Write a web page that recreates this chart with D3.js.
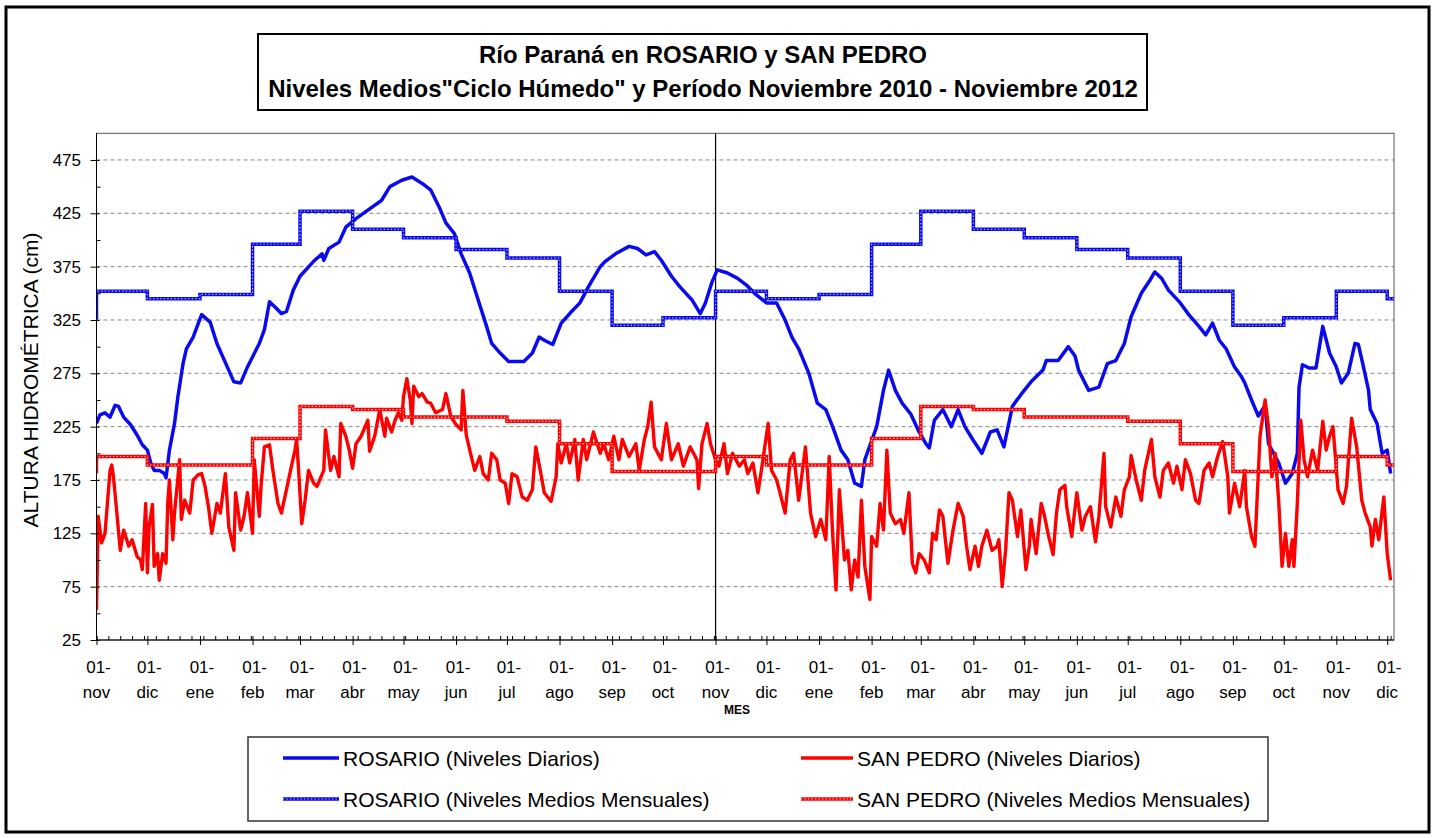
<!DOCTYPE html>
<html>
<head>
<meta charset="utf-8">
<script src="https://cdn.jsdelivr.net/npm/d3@7"></script>
<style>
  body { margin: 0; background: #fff; }
  text { font-family: Arial, "Liberation Sans", sans-serif; fill: #000; }
</style>
</head>
<body>
<script>
// month names in calendar order (getMonth index)
const meses = ["ene", "feb", "mar", "abr", "may", "jun", "jul", "ago", "sep", "oct", "nov", "dic"];

// "Ciclo Húmedo" monthly means, calendar order ene..dic
const rosarioMedio = [349, 396, 427, 410, 402, 391, 383, 352, 320, 327, 352, 345];
const sanPedroMedio = [189, 214, 244, 241, 234, 234, 230, 209, 183, 183, 197, 189];

const yTicks = [25, 75, 125, 175, 225, 275, 325, 375, 425, 475];
const yMinor = [50, 100, 150, 200, 250, 300, 350, 400, 450];

// daily levels: [days since 01-nov-2010, cm]
const rosarioDiario = [
  [0,228],[2,236],[5,238],[8,234],[11,245],[13,244],[16,234],[20,227],[24,217],[27,208],
  [30,203],[32,191],[34,184],[37,184],[40,181],[41,177],[43,203],[46,228],[48,253],[51,284],
  [53,298],[57,309],[61,326],[62,330],[67,323],[71,303],[76,285],[81,267],[85,266],[89,281],
  [96,303],[99,316],[102,342],[106,336],[109,331],[112,333],[116,353],[120,366],[128,380],[133,387],
  [134,381],[137,392],[143,398],[147,412],[153,420],[160,428],[168,437],[173,450],[180,456],[186,459],
  [192,453],[197,447],[202,431],[206,416],[211,406],[215,387],[220,369],[225,344],[230,319],[233,303],
  [238,294],[243,286],[252,286],[257,294],[261,309],[264,306],[269,302],[274,322],[279,331],[285,341],
  [290,356],[297,375],[300,380],[306,387],[314,394],[319,392],[324,386],[329,389],[333,381],[339,366],
  [344,356],[351,344],[356,331],[359,341],[363,361],[366,372],[372,369],[378,364],[383,358],[388,350],
  [395,341],[401,341],[406,325],[410,309],[414,298],[420,275],[425,247],[430,241],[434,225],[439,203],
  [443,194],[447,172],[451,169],[453,194],[460,225],[464,259],[467,278],[471,259],[475,247],[480,237],
  [485,220],[489,209],[491,205],[494,231],[499,241],[504,225],[508,241],[512,225],[517,212],[522,200],
  [527,220],[531,222],[535,206],[540,244],[545,255],[551,267],[558,278],[560,287],[567,287],[573,300],
  [577,291],[579,278],[585,259],[591,262],[596,284],[601,287],[606,303],[610,328],[616,350],[621,362],
  [624,370],[628,364],[632,353],[639,341],[644,330],[650,319],[654,311],[658,322],[662,306],[666,298],
  [671,281],[675,272],[677,266],[681,250],[685,235],[689,245],[691,209],[697,191],[701,172],[705,181],
  [708,200],[709,262],[711,283],[715,280],[719,280],[723,319],[727,294],[731,281],[734,266],[738,275],
  [742,303],[744,302],[747,281],[750,259],[751,241],[755,228],[758,200],[761,203],[763,181]
];

const sanPedroDiario = [
  [0,53],[1,141],[3,116],[5,125],[8,184],[9,189],[10,178],[12,144],[14,109],[16,128],
  [19,113],[21,119],[24,103],[26,100],[27,91],[29,153],[30,88],[31,131],[33,152],[34,94],
  [36,106],[37,81],[39,106],[41,97],[42,153],[43,175],[45,119],[46,144],[49,194],[50,138],
  [52,156],[55,144],[57,175],[60,180],[62,181],[64,169],[66,150],[68,125],[71,153],[73,144],
  [76,181],[78,131],[81,109],[82,163],[85,128],[87,141],[89,163],[92,125],[93,194],[96,141],
  [97,169],[99,206],[102,208],[104,184],[107,153],[109,144],[112,166],[114,181],[117,203],[118,213],
  [119,188],[121,134],[123,156],[125,184],[128,172],[130,169],[134,184],[135,222],[138,184],[140,197],
  [143,178],[144,228],[147,216],[149,203],[151,186],[153,209],[156,216],[160,231],[161,202],[164,216],
  [167,241],[170,216],[171,233],[174,220],[176,231],[178,238],[180,231],[181,253],[183,270],[185,250],
  [186,228],[187,263],[190,253],[192,256],[195,248],[197,247],[200,238],[204,241],[206,256],[209,234],
  [212,227],[215,222],[216,259],[218,217],[221,197],[223,184],[226,197],[228,181],[231,175],[233,200],
  [236,194],[238,175],[241,172],[243,153],[245,181],[248,178],[251,159],[254,156],[257,166],[259,206],
  [262,181],[264,163],[268,155],[271,178],[272,209],[274,191],[277,209],[279,191],[282,213],[284,175],
  [287,213],[289,194],[293,220],[297,200],[299,209],[302,194],[305,216],[308,194],[310,213],[314,197],
  [318,209],[320,184],[323,213],[325,225],[327,248],[329,206],[333,194],[336,228],[339,194],[343,209],
  [346,188],[350,206],[354,194],[355,167],[357,209],[360,228],[362,209],[365,194],[367,188],[370,209],
  [372,181],[375,200],[379,188],[382,194],[384,181],[387,191],[390,163],[392,184],[396,228],[398,184],
  [401,175],[403,163],[406,144],[409,194],[411,200],[414,156],[418,206],[421,144],[424,122],[427,138],
  [430,119],[432,197],[434,125],[436,72],[438,166],[441,100],[443,109],[445,72],[447,100],[449,84],
  [451,156],[453,94],[456,63],[457,122],[460,113],[462,153],[464,128],[466,203],[468,144],[471,134],
  [474,138],[476,125],[479,163],[481,97],[483,88],[485,106],[488,100],[491,88],[493,125],[495,119],
  [497,147],[499,141],[502,97],[505,128],[508,153],[511,141],[513,113],[515,91],[518,113],[520,94],
  [522,113],[525,128],[528,109],[531,113],[532,119],[534,75],[536,109],[538,163],[540,156],[543,122],
  [545,147],[548,91],[550,113],[551,138],[554,106],[557,153],[559,141],[561,125],[564,105],[566,144],
  [568,166],[571,170],[572,150],[575,122],[578,163],[581,128],[583,141],[586,150],[589,117],[591,141],
  [594,200],[595,150],[598,131],[601,159],[604,141],[606,166],[609,178],[610,198],[613,175],[616,156],
  [618,184],[622,213],[624,178],[627,159],[629,184],[632,191],[635,172],[637,188],[640,166],[642,194],
  [645,181],[648,156],[650,153],[653,184],[656,191],[658,178],[661,197],[664,211],[667,178],[668,144],
  [671,172],[674,150],[677,184],[678,150],[681,122],[683,113],[686,216],[689,250],[691,225],[693,178],
  [695,200],[697,156],[699,94],[701,125],[703,94],[705,119],[706,94],[708,153],[710,231],[712,194],
  [714,178],[717,203],[720,184],[723,230],[725,203],[727,216],[729,225],[732,166],[735,153],[737,169],
  [740,233],[743,206],[746,156],[748,144],[751,131],[752,113],[754,138],[756,119],[759,159],[761,106],
  [763,81]
];

const W = 1437, H = 838;
const plot = { left: 96.5, right: 1394, top: 133.3, bottom: 640 };
const inicio = new Date(2010, 10, 1);
const fin = new Date(2012, 11, 5);
const corte = new Date(2011, 10, 1);

const AZUL = "#0a0aee", ROJO = "#ff0000";

const svg = d3.select("body").append("svg")
  .attr("width", W)
  .attr("height", H);

svg.append("rect").attr("width", W).attr("height", H).attr("fill", "#fff");

// outer frame
svg.append("rect")
  .attr("x", 6).attr("y", 7).attr("width", 1423).attr("height", 825)
  .attr("fill", "none").attr("stroke", "#000").attr("stroke-width", 3);

// title box
svg.append("rect")
  .attr("x", 258).attr("y", 34).attr("width", 889).attr("height", 76)
  .attr("fill", "#fff").attr("stroke", "#000").attr("stroke-width", 2);

const title = svg.append("text")
  .attr("text-anchor", "middle")
  .style("font-size", "24px")
  .style("font-weight", "bold");
title.append("tspan").attr("x", 703).attr("y", 63).text("Río Paraná en ROSARIO y SAN PEDRO");
title.append("tspan").attr("x", 703).attr("y", 97)
  .text("Niveles Medios\"Ciclo Húmedo\" y Período Noviembre 2010 - Noviembre 2012");

const x = d3.scaleTime().domain([inicio, fin]).range([plot.left, plot.right]);
const y = d3.scaleLinear().domain([25, 500]).range([plot.bottom, plot.top]);

// plot frame
svg.append("rect")
  .attr("x", plot.left).attr("y", plot.top)
  .attr("width", plot.right - plot.left).attr("height", plot.bottom - plot.top)
  .attr("fill", "none").attr("stroke", "#555").attr("stroke-width", 1);

// gridlines
svg.append("g")
  .selectAll("line")
  .data(yTicks.filter(d => d > 25))
  .enter().append("line")
  .attr("x1", plot.left).attr("x2", plot.right)
  .attr("y1", d => y(d)).attr("y2", d => y(d))
  .attr("stroke", "#888").attr("stroke-width", 1)
  .attr("stroke-dasharray", "4,3");

svg.append("clipPath").attr("id", "clip")
  .append("rect")
  .attr("x", plot.left).attr("y", plot.top)
  .attr("width", plot.right - plot.left).attr("height", plot.bottom - plot.top);

const series = svg.append("g").attr("clip-path", "url(#clip)");

// separator at 01-nov-2011
series.append("line")
  .attr("x1", x(corte)).attr("x2", x(corte))
  .attr("y1", plot.top).attr("y2", plot.bottom)
  .attr("stroke", "#000").attr("stroke-width", 1.2);

const lineDia = d3.line()
  .x(d => x(d3.timeDay.offset(inicio, d[0])))
  .y(d => y(d[1]));

series.append("path")
  .datum(rosarioDiario)
  .attr("d", lineDia)
  .attr("fill", "none").attr("stroke", AZUL)
  .attr("stroke-width", 3.5).attr("stroke-linejoin", "round");

series.append("path")
  .datum(sanPedroDiario)
  .attr("d", lineDia)
  .attr("fill", "none").attr("stroke", ROJO)
  .attr("stroke-width", 3.4).attr("stroke-linejoin", "round");

// monthly "ciclo húmedo" steps
const inicioMes = d3.timeMonth.range(new Date(2010, 9, 1), fin);
function pasos(medio) {
  const pts = inicioMes.map(m => [m, medio[m.getMonth()]]);
  pts.push([fin, medio[fin.getMonth()]]);
  return pts;
}
const lineMes = d3.line()
  .x(d => x(d[0]))
  .y(d => y(d[1]))
  .curve(d3.curveStepAfter);

function punteada(g, datos, color, claro) {
  g.append("path")
    .datum(datos).attr("d", lineMes)
    .attr("fill", "none").attr("stroke", color).attr("stroke-width", 3.5);
  g.append("path")
    .datum(datos).attr("d", lineMes)
    .attr("fill", "none").attr("stroke", claro).attr("stroke-width", 1.2)
    .attr("stroke-dasharray", "1.3,2.2");
}
punteada(series, pasos(rosarioMedio), AZUL, "#b8b8ff");
punteada(series, pasos(sanPedroMedio), ROJO, "#ffc4c4");

// y axis
const yAxis = svg.append("g").attr("transform", "translate(" + plot.left + ",0)");
yAxis.call(d3.axisLeft(y).tickValues(yTicks).tickSize(6).tickPadding(9.5));
yAxis.call(g => g.select(".domain").remove());
yAxis.selectAll("text").style("font-size", "17px");
yAxis.append("g").call(d3.axisLeft(y).tickValues(yTicks).tickSize(-3).tickFormat(""))
  .call(g => g.select(".domain").remove());
yAxis.append("g").call(d3.axisLeft(y).tickValues(yMinor).tickSize(-4).tickFormat(""))
  .call(g => g.select(".domain").remove());
svg.append("line")
  .attr("x1", plot.left).attr("x2", plot.left)
  .attr("y1", plot.top).attr("y2", plot.bottom)
  .attr("stroke", "#000");

svg.append("text")
  .attr("transform", "translate(38,380) rotate(-90)")
  .attr("text-anchor", "middle")
  .style("font-size", "21px")
  .text("ALTURA HIDROMÉTRICA (cm)");

// x axis
const mesesTicks = d3.timeMonth.range(inicio, fin);
const semanas = d3.timeDay.range(inicio, fin, 7);
const xAxis = svg.append("g").attr("transform", "translate(0," + plot.bottom + ")");
xAxis.append("g").call(d3.axisBottom(x).tickValues(mesesTicks).tickSize(5).tickFormat(""));
xAxis.append("g").call(d3.axisBottom(x).tickValues(mesesTicks).tickSize(-4).tickFormat(""));
xAxis.append("g").call(d3.axisBottom(x).tickValues(semanas).tickSize(-4).tickFormat(""));
xAxis.selectAll(".domain").remove();
svg.append("line")
  .attr("x1", plot.left).attr("x2", plot.right)
  .attr("y1", plot.bottom).attr("y2", plot.bottom)
  .attr("stroke", "#000");

const etiquetas = svg.append("g")
  .attr("text-anchor", "middle")
  .style("font-size", "17px");
etiquetas.selectAll(".dia")
  .data(mesesTicks)
  .enter().append("text")
  .attr("x", d => x(d) + 2)
  .attr("y", plot.bottom + 33)
  .text("01-");
etiquetas.selectAll(".mes")
  .data(mesesTicks)
  .enter().append("text")
  .attr("x", d => x(d))
  .attr("y", plot.bottom + 58)
  .text(d => meses[d.getMonth()]);

svg.append("text")
  .attr("x", 737).attr("y", 714)
  .attr("text-anchor", "middle")
  .style("font-size", "12px").style("font-weight", "bold")
  .text("MES");

// legend
svg.append("rect")
  .attr("x", 248).attr("y", 737).attr("width", 1020).attr("height", 84)
  .attr("fill", "#fff").attr("stroke", "#333").attr("stroke-width", 1.5);

const leyenda = [
  { nombre: "ROSARIO (Niveles Diarios)", color: AZUL, claro: null, col: 0, fila: 0 },
  { nombre: "SAN PEDRO (Niveles Diarios)", color: ROJO, claro: null, col: 1, fila: 0 },
  { nombre: "ROSARIO (Niveles Medios Mensuales)", color: AZUL, claro: "#b8b8ff", col: 0, fila: 1 },
  { nombre: "SAN PEDRO (Niveles Medios Mensuales)", color: ROJO, claro: "#ffc4c4", col: 1, fila: 1 }
];
const colX = [283, 801], colW = [56, 52], filaY = [758, 799];

const item = svg.append("g").selectAll("g")
  .data(leyenda)
  .enter().append("g")
  .attr("transform", d => "translate(" + colX[d.col] + "," + filaY[d.fila] + ")");

item.append("line")
  .attr("x1", 0).attr("x2", d => colW[d.col])
  .attr("stroke", d => d.color)
  .attr("stroke-width", 3.5);
item.filter(d => d.claro).append("line")
  .attr("x1", 0).attr("x2", d => colW[d.col])
  .attr("stroke", d => d.claro)
  .attr("stroke-width", 1.2)
  .attr("stroke-dasharray", "1.3,2.2");
item.append("text")
  .attr("x", d => colW[d.col] + 4)
  .attr("dy", "0.36em")
  .style("font-size", "21px")
  .text(d => d.nombre);
</script>
</body>
</html>
